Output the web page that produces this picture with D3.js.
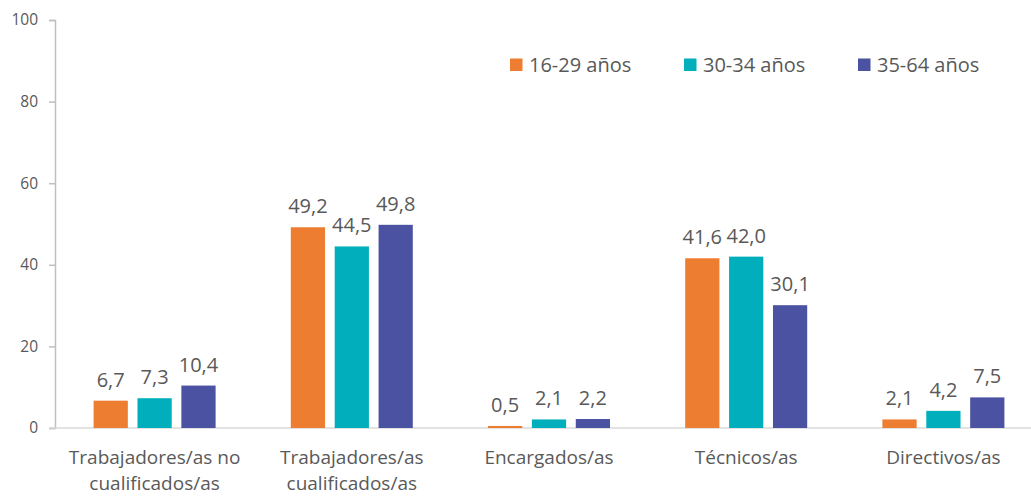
<!DOCTYPE html>
<html><head><meta charset="utf-8">
<script src="https://cdn.jsdelivr.net/npm/d3@7"></script>
<style>body{margin:0;background:#fff}svg{display:block}text{font-family:"Open Sans",sans-serif;fill:#595959}</style>
</head><body><svg id="c" width="1031" height="498"></svg>
<script>
const categories = [["Trabajadores/as no","cualificados/as"],["Trabajadores/as","cualificados/as"],["Encargados/as"],["Técnicos/as"],["Directivos/as"]];
const seriesNames = ["16-29 años","30-34 años","35-64 años"];
const s1 = [6.7, 49.2, 0.5, 41.6, 2.1];
const s2 = [7.3, 44.5, 2.1, 42.0, 4.2];
const s3 = [10.4, 49.8, 2.2, 30.1, 7.5];
const yTicks = [0,20,40,60,80,100];
const colors = ["#ED7D31","#00AFBB","#4A52A1"];
const series = [s1,s2,s3];

const svg = d3.select("#c");
const x = d3.scaleBand().domain(d3.range(categories.length)).range([56,1042]).padding(0);
const y = d3.scaleLinear().domain([0,100]).range([428,20]);
const inner = d3.scaleBand().domain([0,1,2]).range([-61,61]).paddingInner(0.22);

const yAxis = d3.axisLeft(y).tickValues(yTicks).tickSize(6).tickPadding(11);
const gy = svg.append("g").attr("transform","translate(55,0)").call(yAxis);
gy.select(".domain").attr("stroke","#BFBFBF").attr("stroke-width",1.5);
gy.selectAll(".tick line").attr("stroke","#BFBFBF").attr("stroke-width",1.5);
gy.selectAll(".tick text").style("font-size","15.5px").attr("fill","#595959");

svg.append("line").attr("x1",49).attr("x2",1031).attr("y1",y(0)).attr("y2",y(0)).attr("stroke","#D9D9D9").attr("stroke-width",1.5);

series.forEach((s,i)=>{
  const g = svg.append("g");
  g.selectAll("rect").data(s).join("rect")
    .attr("x",(d,j)=>x(j)+x.bandwidth()/2+inner(i))
    .attr("width",inner.bandwidth())
    .attr("y",d=>y(d)).attr("height",d=>y(0)-y(d))
    .attr("fill",colors[i]);
  g.selectAll("text").data(s).join("text")
    .attr("x",(d,j)=>x(j)+x.bandwidth()/2+inner(i)+inner.bandwidth()/2)
    .attr("y",d=>y(d)-14)
    .attr("text-anchor","middle").style("font-size","20px")
    .text(d=>d.toFixed(1).replace(".",","));
});

categories.forEach((c,j)=>{
  const cx = x(j)+x.bandwidth()/2;
  const t = svg.append("text").attr("text-anchor","middle").style("font-size","19px")
    .attr("x",cx).attr("y",464);
  c.forEach((line,k)=>t.append("tspan").attr("x",cx).attr("dy",k?26:0).text(line));
});

const legX = [510,684,858];
seriesNames.forEach((n,i)=>{
  svg.append("rect").attr("x",legX[i]).attr("y",58.5).attr("width",12.5).attr("height",12.5).attr("fill",colors[i]);
  svg.append("text").attr("x",legX[i]+19).attr("y",72).style("font-size",
    "20px").text(n);
});
</script></body></html>
